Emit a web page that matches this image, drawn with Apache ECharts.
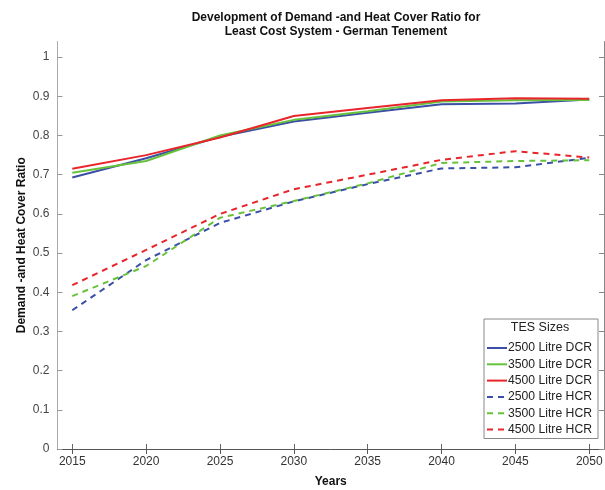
<!DOCTYPE html>
<html>
<head>
<meta charset="utf-8">
<script src="https://cdn.jsdelivr.net/npm/echarts@6/dist/echarts.min.js"></script>
<style>
  html, body { margin: 0; padding: 0; background: #fff; }
  #chart { width: 605px; height: 490px; }
</style>
</head>
<body>
<div id="chart"></div>
<script>
var years = [2015, 2020, 2025, 2030, 2035, 2040, 2045, 2050];
var yTicks = [0, 0.1, 0.2, 0.3, 0.4, 0.5, 0.6, 0.7, 0.8, 0.9, 1];

var dcr2500 = [0.693, 0.742, 0.797, 0.836, 0.858, 0.880, 0.882, 0.892];
var dcr3500 = [0.705, 0.735, 0.800, 0.840, 0.862, 0.887, 0.890, 0.891];
var dcr4500 = [0.715, 0.750, 0.795, 0.850, 0.870, 0.890, 0.895, 0.894];
var hcr2500 = [0.354, 0.482, 0.577, 0.632, 0.676, 0.716, 0.719, 0.743];
var hcr3500 = [0.390, 0.467, 0.590, 0.633, 0.678, 0.730, 0.735, 0.737];
var hcr4500 = [0.418, 0.508, 0.600, 0.663, 0.700, 0.738, 0.760, 0.744];

var blue = '#3b4fa6';
var green = '#67c23b';
var red = '#e8252b';
var font = 'Liberation Sans, Arial, sans-serif';

function pairs(vals) {
  return years.map(function(y, i) { return [y, vals[i]]; });
}

function line(name, vals, color, dashed) {
  return {
    name: name,
    type: 'line',
    data: pairs(vals),
    symbol: 'none',
    lineStyle: { color: color, width: 2, type: dashed ? [6, 5] : 'solid' },
    itemStyle: { color: color }
  };
}

var chart = echarts.init(document.getElementById('chart'), null, { renderer: 'canvas' });
chart.setOption({
  animation: false,
  title: {
    text: 'Development of Demand -and Heat Cover Ratio for\nLeast Cost System - German Tenement',
    left: 331, top: 6, textAlign: 'center',
    textStyle: { fontFamily: font, fontSize: 12, fontWeight: 'bold', color: '#111', lineHeight: 14 }
  },
  grid: { left: 57.5, right: 1, top: 41.5, bottom: 41, containLabel: false, outerBoundsMode: 'none' },
  legend: {
    orient: 'vertical',
    right: 7, top: 319,
    backgroundColor: '#fff',
    borderColor: '#888', borderWidth: 1,
    padding: [23, 6, 3, 2],
    itemGap: 4.3, itemWidth: 20, itemHeight: 12,
    itemStyle: { opacity: 0 },
    textStyle: { fontFamily: font, fontSize: 12.2, color: '#222', padding: [0, 0, 0, -4] },
    data: ['2500 Litre DCR', '3500 Litre DCR', '4500 Litre DCR', '2500 Litre HCR', '3500 Litre HCR', '4500 Litre HCR']
  },
  graphic: [{
    type: 'text', x: 540, y: 321, z: 100,
    style: { text: 'TES Sizes', fontFamily: font, fontSize: 12.5, fill: '#222', align: 'center' }
  }],
  xAxis: [{
    type: 'value', min: 2014, max: 2051,
    name: 'Years', nameLocation: 'middle', nameGap: 27, nameMoveOverlap: false,
    nameTextStyle: { fontFamily: font, fontSize: 12, fontWeight: 'bold', color: '#111' },
    axisLine: { show: false },
    axisTick: { inside: true, length: 5, customValues: years, lineStyle: { color: '#666' } },
    axisLabel: {
      customValues: years, fontFamily: font, fontSize: 12, color: '#333', margin: 7,
      formatter: function(v) { return String(v); }
    },
    splitLine: { show: false }
  }, {
    type: 'value', min: 2014, max: 2051, position: 'top',
    axisLine: { show: true, lineStyle: { color: '#555' } },
    axisTick: { inside: true, length: 5, customValues: years, lineStyle: { color: '#555' } },
    axisLabel: { show: false },
    splitLine: { show: false }
  }],
  yAxis: [{
    type: 'value', min: 0, max: 1.04,
    name: 'Demand -and Heat Cover Ratio', nameLocation: 'middle', nameGap: 30, nameMoveOverlap: false,
    nameTextStyle: { fontFamily: font, fontSize: 12, fontWeight: 'bold', color: '#111' },
    axisLine: { show: true, lineStyle: { color: '#aaa' } },
    axisTick: { inside: true, length: 5, customValues: yTicks, lineStyle: { color: '#999' } },
    axisLabel: { customValues: yTicks, fontFamily: font, fontSize: 12, color: '#444', margin: 8 },
    splitLine: { show: false }
  }, {
    type: 'value', min: 0, max: 1.04, position: 'right',
    axisLine: { show: true, lineStyle: { color: '#888' } },
    axisTick: { inside: true, length: 5, customValues: yTicks, lineStyle: { color: '#888' } },
    axisLabel: { show: false },
    splitLine: { show: false }
  }],
  series: [
    line('2500 Litre DCR', dcr2500, blue, false),
    line('3500 Litre DCR', dcr3500, green, false),
    line('4500 Litre DCR', dcr4500, red, false),
    line('2500 Litre HCR', hcr2500, blue, true),
    line('3500 Litre HCR', hcr3500, green, true),
    line('4500 Litre HCR', hcr4500, red, true)
  ]
});
window.addEventListener('resize', function() { chart.resize(); });
</script>
</body>
</html>
